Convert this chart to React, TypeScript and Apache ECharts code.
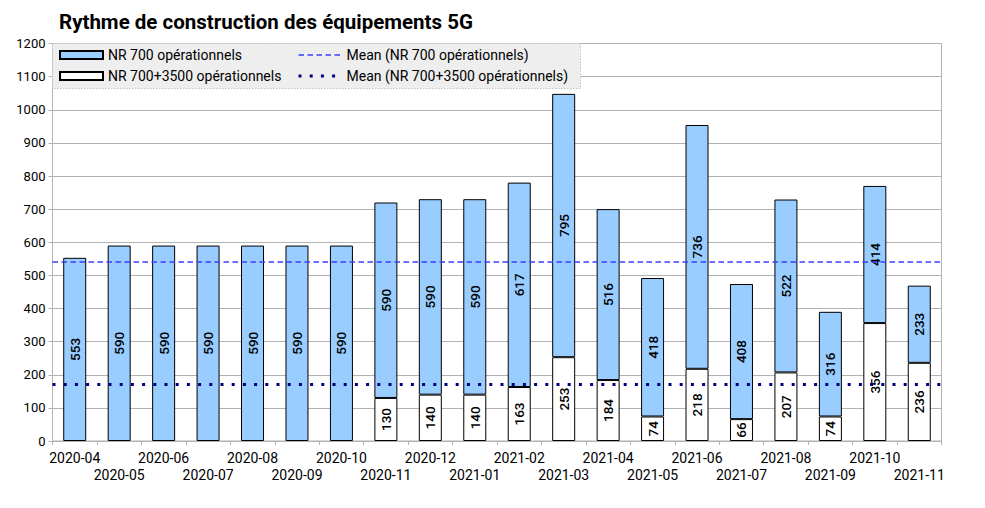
import React, { useEffect, useRef } from 'react';
import * as echarts from 'echarts';

const months = [
  '2020-04', '2020-05', '2020-06', '2020-07', '2020-08', '2020-09', '2020-10',
  '2020-11', '2020-12', '2021-01', '2021-02', '2021-03', '2021-04', '2021-05',
  '2021-06', '2021-07', '2021-08', '2021-09', '2021-10', '2021-11',
];
const nr700 = [553, 590, 590, 590, 590, 590, 590, 590, 590, 590, 617, 795, 516, 418, 736, 408, 522, 316, 414, 233];
const nr700_3500: (number | null)[] = [null, null, null, null, null, null, null, 130, 140, 140, 163, 253, 184, 74, 218, 66, 207, 74, 356, 236];

const yMin = 0;
const yMax = 1200;
const yInterval = 100;

const NAME_700 = 'NR 700 opérationnels';
const NAME_3500 = 'NR 700+3500 opérationnels';
const NAME_MEAN_700 = 'Mean (NR 700 opérationnels)';
const NAME_MEAN_3500 = 'Mean (NR 700+3500 opérationnels)';

const mean = (arr: (number | null)[]) => {
  const v = arr.filter((x): x is number => x !== null);
  return v.reduce((a, b) => a + b, 0) / v.length;
};

const FONT = 'Roboto';
const DASH_BLUE = [5.5, 3.5];
const DOT_NAVY = [3, 8.2];

export default function App() {
  const ref = useRef<HTMLDivElement>(null);

  useEffect(() => {
    if (!ref.current) return;
    const chart = echarts.init(ref.current, undefined, { renderer: 'svg' });
    const mean700 = mean(nr700);
    const mean3500 = mean(nr700_3500);

    const barLabel = {
      show: true,
      position: 'inside',
      rotate: 90,
      color: '#000',
      fontSize: 13.5,
      fontWeight: 500,
      fontFamily: FONT,
      formatter: '{c}',
    };

    chart.setOption({
      animation: false,
      textStyle: { fontFamily: FONT },
      title: {
        text: 'Rythme de construction des équipements 5G',
        left: 59,
        top: 11.5,
        padding: 0,
        textStyle: { fontSize: 20.5, fontWeight: 'bold', color: '#000', fontFamily: FONT },
      },
      graphic: [
        {
          type: 'rect',
          z: 3,
          shape: { x: 52.5, y: 43.5, width: 528, height: 45 },
          style: { fill: '#eeeeee', stroke: '#c4c4c4', lineWidth: 1, lineDash: [1.5, 1.5] },
        },
      ],
      legend: [
        {
          orient: 'vertical',
          left: 59,
          top: 48,
          padding: 0,
          itemWidth: 43,
          itemHeight: 8,
          itemGap: 7,
          icon: 'rect',
          selectedMode: false,
          data: [NAME_700, NAME_3500],
          textStyle: { fontSize: 14, color: '#000', fontFamily: FONT, lineHeight: 14 },
          z: 10,
        },
        {
          orient: 'vertical',
          left: 297,
          top: 48,
          padding: 0,
          itemWidth: 43,
          itemHeight: 8,
          itemGap: 7,
          selectedMode: false,
          data: [
            {
              name: NAME_MEAN_700,
              itemStyle: { opacity: 0 },
              lineStyle: { color: '#3c3cff', width: 1.5, type: DASH_BLUE },
            },
            {
              name: NAME_MEAN_3500,
              itemStyle: { opacity: 0 },
              lineStyle: { color: '#000080', width: 3, type: DOT_NAVY },
            },
          ],
          textStyle: { fontSize: 14, color: '#000', fontFamily: FONT, lineHeight: 14 },
          z: 10,
        },
      ],
      grid: {
        left: 52.5,
        right: 43.5,
        top: 43.5,
        bottom: 67,
        show: true,
        borderColor: '#b3b3b3',
        borderWidth: 1,
        backgroundColor: 'transparent',
      },
      xAxis: {
        type: 'category',
        data: months,
        boundaryGap: true,
        axisLine: { show: true, lineStyle: { color: '#b3b3b3', width: 1 } },
        axisTick: { show: true, interval: 0, length: 4, lineStyle: { color: '#b3b3b3' } },
        axisLabel: {
          interval: 0,
          margin: 8,
          color: '#000',
          fontSize: 14,
          fontFamily: FONT,
          lineHeight: 17.3,
          formatter: (v: string, i: number) => (i % 2 === 1 ? '\n' + v : v),
        },
        splitLine: { show: false },
      },
      yAxis: {
        type: 'value',
        min: yMin,
        max: yMax,
        interval: yInterval,
        axisLine: { show: true, lineStyle: { color: '#b3b3b3', width: 1 } },
        axisTick: { show: true, length: 4, lineStyle: { color: '#b3b3b3' } },
        axisLabel: {
          color: '#000',
          fontSize: 13,
          fontFamily: FONT,
          margin: 7,
          formatter: (v: number) => String(v),
        },
        splitLine: { show: true, lineStyle: { color: '#b3b3b3', width: 1 } },
      },
      series: [
        {
          name: NAME_3500,
          type: 'bar',
          stack: 'total',
          barWidth: 23,
          data: nr700_3500.map((v) => (v === null ? '-' : v)),
          itemStyle: { color: '#ffffff', borderColor: '#000000', borderWidth: 1 },
          label: barLabel,
        },
        {
          name: NAME_700,
          type: 'bar',
          stack: 'total',
          barWidth: 23,
          data: nr700,
          itemStyle: { color: '#99ccff', borderColor: '#000000', borderWidth: 1 },
          label: barLabel,
        },
        {
          name: NAME_MEAN_700,
          type: 'line',
          data: [],
          symbol: 'none',
          color: '#3c3cff',
          lineStyle: { color: '#3c3cff', width: 1.5, type: DASH_BLUE },
          markLine: {
            silent: true,
            symbol: ['none', 'none'],
            label: { show: false },
            lineStyle: { color: '#3c3cff', width: 1.5, type: DASH_BLUE },
            data: [{ yAxis: mean700 }],
          },
        },
        {
          name: NAME_MEAN_3500,
          type: 'line',
          data: [],
          symbol: 'none',
          color: '#000080',
          lineStyle: { color: '#000080', width: 3, type: DOT_NAVY },
          markLine: {
            silent: true,
            symbol: ['none', 'none'],
            label: { show: false },
            lineStyle: { color: '#000080', width: 3, type: DOT_NAVY },
            data: [{ yAxis: mean3500 }],
          },
        },
      ],
    });

    return () => chart.dispose();
  }, []);

  return (
    <div
      ref={ref}
      style={{ position: 'fixed', left: 0, top: 0, width: 985, height: 508, background: '#fff' }}
    />
  );
}
